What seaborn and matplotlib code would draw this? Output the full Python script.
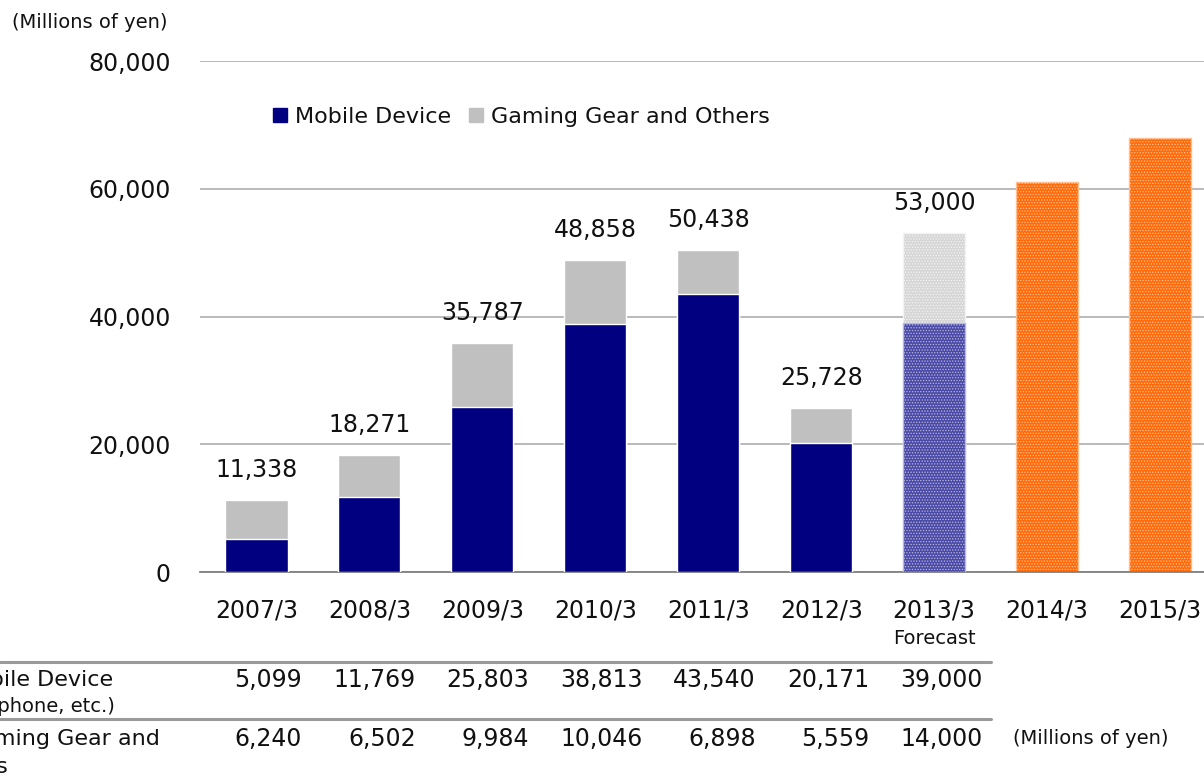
import numpy as np
import pandas as pd
import matplotlib
matplotlib.use("Agg")
import matplotlib.pyplot as plt
import matplotlib.transforms as mtransforms
from matplotlib.lines import Line2D
import seaborn as sns

# ---- data ----
categories = ["2007/3", "2008/3", "2009/3", "2010/3", "2011/3", "2012/3", "2013/3", "2014/3", "2015/3"]
mobile = [5099, 11769, 25803, 38813, 43540, 20171, 39000, np.nan, np.nan]
gaming = [6240, 6502, 9984, 10046, 6898, 5559, 14000, np.nan, np.nan]
totals = [11338, 18271, 35787, 48858, 50438, 25728, 53000, 61000, 68000]
total_labels = ["11,338", "18,271", "35,787", "48,858", "50,438", "25,728", "53,000", "", ""]
mobile_row = ["5,099", "11,769", "25,803", "38,813", "43,540", "20,171", "39,000"]
gaming_row = ["6,240", "6,502", "9,984", "10,046", "6,898", "5,559", "14,000"]
yticks = [0, 20000, 40000, 60000, 80000]
ytick_labels = ["0", "20,000", "40,000", "60,000", "80,000"]

sns.set_theme(style="white")
plt.rcParams["font.family"] = ["DejaVu Sans"]
plt.rcParams["hatch.linewidth"] = 0.6

TXT = "#111111"
NUM_FS = 17
LAB_FS = 16
SMALL_FS = 14

W, H = 1204, 776
fig = plt.figure(figsize=(W / 100, H / 100), dpi=100)
ax = fig.add_axes([200 / W, 1 - 572 / H, 1 - 200 / W, (572 - 61) / H])

df = pd.DataFrame({"cat": categories, "total": totals, "mobile": mobile})

NAVY = "#000080"
GRAY = "#C0C0C0"
sns.barplot(data=df, x="cat", y="total", order=categories, color=GRAY,
            width=0.55, edgecolor="white", linewidth=1, saturation=1, ax=ax, zorder=2)
sns.barplot(data=df, x="cat", y="mobile", order=categories, color=NAVY,
            width=0.55, edgecolor="white", linewidth=1, saturation=1, ax=ax, zorder=3)

tot_bars = ax.containers[0]
mob_bars = ax.containers[1]
# forecast styling
tot_bars[6].set_facecolor("#d6d6d6")
tot_bars[6].set_hatch("......")
tot_bars[6].set_edgecolor("#f4f4f4")
for b in list(mob_bars):
    if abs(b.get_x() + b.get_width() / 2 - 6) < 0.01:
        b.set_facecolor("#4a4aa6")
        b.set_hatch("......")
        b.set_edgecolor("#b8b8e0")
for i in (7, 8):
    tot_bars[i].set_facecolor("#ff6a0a")
    tot_bars[i].set_hatch("......")
    tot_bars[i].set_edgecolor("#ffc090")

ax.set_ylim(0, 80000)
ax.set_xlim(-0.5, (W - 256) / 113)
ax.set_yticks(yticks)
ax.set_yticklabels(ytick_labels, fontsize=NUM_FS, color=TXT)
ax.tick_params(axis="y", length=0, pad=21)
ax.tick_params(axis="x", length=0, pad=19, labelsize=NUM_FS, labelcolor=TXT)
ax.set_xlabel("")
ax.set_ylabel("")
ax.grid(axis="y", color="#b4b4b4", linewidth=1.3, zorder=0)
ax.set_axisbelow(True)
for s in ("left", "right", "top"):
    ax.spines[s].set_visible(False)
ax.spines["bottom"].set_color("#808080")
ax.spines["bottom"].set_linewidth(1.3)

# value labels on top of bars
for i, (t, lab) in enumerate(zip(totals, total_labels)):
    if lab:
        ax.annotate(lab, (i, t), xytext=(0, 21.6), textcoords="offset points",
                    ha="center", va="center", fontsize=NUM_FS, color=TXT)

# Forecast note
ax.annotate("Forecast", (6, 0), xytext=(0, -48), textcoords="offset points",
            ha="center", va="center", fontsize=SMALL_FS, color=TXT)

# unit label top
fig.text(12 / W, 1 - 23 / H, "(Millions of yen)", fontsize=SMALL_FS, ha="left", va="center", color=TXT)

# legend
handles = [Line2D([], [], marker="s", color="none", markerfacecolor=NAVY, markeredgecolor=NAVY, markersize=9.4),
           Line2D([], [], marker="s", color="none", markerfacecolor=GRAY, markeredgecolor=GRAY, markersize=9.4)]
fig.legend(handles, ["Mobile Device", "Gaming Gear and Others"], ncol=2, frameon=False,
           loc="center left", bbox_to_anchor=(273 / W, 1 - 117 / H), fontsize=LAB_FS,
           handlelength=0.6, handletextpad=0.4, columnspacing=0.8,
           borderpad=0, borderaxespad=0, labelcolor=TXT)

# table below chart
def px(x):
    return x / W

def py(y):
    return 1 - y / H

for y in (662, 719):
    fig.add_artist(Line2D([0, px(991)], [py(y), py(y)], color="#9a9a9a", linewidth=2.2))

fig.text(px(113), py(680), "Mobile Device", fontsize=LAB_FS, ha="right", va="center", color=TXT)
fig.text(px(115), py(706), "(Smartphone, etc.)", fontsize=SMALL_FS, ha="right", va="center", color=TXT)
fig.text(px(160), py(739), "Gaming Gear and", fontsize=LAB_FS, ha="right", va="center", color=TXT)
fig.text(px(9), py(767), "Others", fontsize=LAB_FS, ha="right", va="center", color=TXT)

for i, (m, g) in enumerate(zip(mobile_row, gaming_row)):
    xr = 302 + 113.5 * i
    fig.text(px(xr), py(680), m, fontsize=NUM_FS, ha="right", va="center", color=TXT)
    fig.text(px(xr), py(739), g, fontsize=NUM_FS, ha="right", va="center", color=TXT)
fig.text(px(1013), py(739), "(Millions of yen)", fontsize=SMALL_FS, ha="left", va="center", color=TXT)

fig.savefig("out.png", dpi=100)
